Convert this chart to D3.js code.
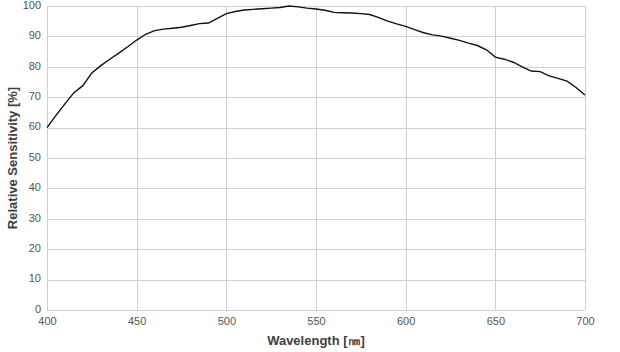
<!DOCTYPE html>
<html>
<head>
<meta charset="utf-8">
<script src="https://cdn.jsdelivr.net/npm/d3@7"></script>
<style>
  body { margin: 0; background: #fff; }
  svg { font-family: "Liberation Sans", Arial, sans-serif; }
</style>
</head>
<body>
<svg width="620" height="352"></svg>
<script>
    const wavelengths = [400, 405, 410, 415, 420, 425, 430, 435, 440, 445, 450, 455, 460, 465, 470, 475, 480, 485, 490, 495,
                         500, 505, 510, 515, 520, 525, 530, 535, 540, 545, 550, 555, 560, 565, 570, 575, 580, 585, 590, 595,
                         600, 605, 610, 615, 620, 625, 630, 635, 640, 645, 650, 655, 660, 665, 670, 675, 680, 685, 690, 695, 700];
    const sensitivity = [60, 64, 67.8, 71.5, 73.8, 78, 80.4, 82.5, 84.5, 86.6, 88.8, 90.7, 91.9, 92.4, 92.7, 93, 93.6, 94.2, 94.4, 95.9,
                         97.5, 98.2, 98.7, 98.9, 99.1, 99.3, 99.5, 100, 99.7, 99.3, 99, 98.6, 97.9, 97.8, 97.7, 97.5, 97.2, 96.2, 95, 94.1,
                         93.3, 92.2, 91.2, 90.5, 90.1, 89.4, 88.7, 87.8, 87, 85.6, 83.2, 82.5, 81.5, 80, 78.6, 78.4, 77, 76.2, 75.3, 73.2, 70.7];
    const xTicks = [400, 450, 500, 550, 600, 650, 700];
    const yTicks = [0, 10, 20, 30, 40, 50, 60, 70, 80, 90, 100];

    const svg = d3.select("svg"),
          margin = {top: 6, right: 35, bottom: 42, left: 47},
          width = +svg.attr("width") - margin.left - margin.right,
          height = +svg.attr("height") - margin.top - margin.bottom;

    const g = svg.append("g").attr("transform", `translate(${margin.left},${margin.top})`);

    const x = d3.scaleLinear().domain([400, 700]).range([0, width]);
    const y = d3.scaleLinear().domain([0, 100]).range([height, 0]);

    // grid lines
    g.append("g")
      .selectAll("line.h")
      .data(yTicks)
      .enter().append("line")
        .attr("x1", 0).attr("x2", width)
        .attr("y1", d => Math.round(y(d)) + 0.5).attr("y2", d => Math.round(y(d)) + 0.5)
        .attr("stroke", "#cfcfcf");

    g.append("g")
      .selectAll("line.v")
      .data(xTicks)
      .enter().append("line")
        .attr("x1", d => Math.round(x(d)) + 0.5).attr("x2", d => Math.round(x(d)) + 0.5)
        .attr("y1", 0).attr("y2", height)
        .attr("stroke", "#cfcfcf");

    // axes (labels only)
    const xAxis = g.append("g")
      .attr("transform", `translate(0,${height})`)
      .call(d3.axisBottom(x).tickValues(xTicks).tickSize(0).tickPadding(7));
    const yAxis = g.append("g")
      .call(d3.axisLeft(y).tickValues(yTicks).tickSize(0).tickPadding(6));

    [xAxis, yAxis].forEach(a => {
      a.select(".domain").remove();
      a.selectAll("text").attr("fill", "#555").style("font-size", "11px");
    });
    yAxis.selectAll("text").attr("dy", "0.2em");

    // curve
    const line = d3.line()
      .x(d => x(d[0]))
      .y(d => y(d[1]));

    g.append("path")
      .datum(wavelengths.map((w, i) => [w, sensitivity[i]]))
      .attr("fill", "none")
      .attr("stroke", "#111")
      .attr("stroke-width", 1.4)
      .attr("d", line);

    // axis titles
    svg.append("text")
      .attr("x", margin.left + width / 2)
      .attr("y", 345)
      .attr("text-anchor", "middle")
      .attr("fill", "#404040")
      .style("font-size", "13px")
      .style("font-weight", "bold")
      .text("Wavelength [㎚]");

    svg.append("text")
      .attr("transform", `translate(17,${margin.top + height / 2}) rotate(-90)`)
      .attr("text-anchor", "middle")
      .attr("fill", "#404040")
      .style("font-size", "13px")
      .style("font-weight", "bold")
      .text("Relative Sensitivity [%]");
</script>
</body>
</html>
